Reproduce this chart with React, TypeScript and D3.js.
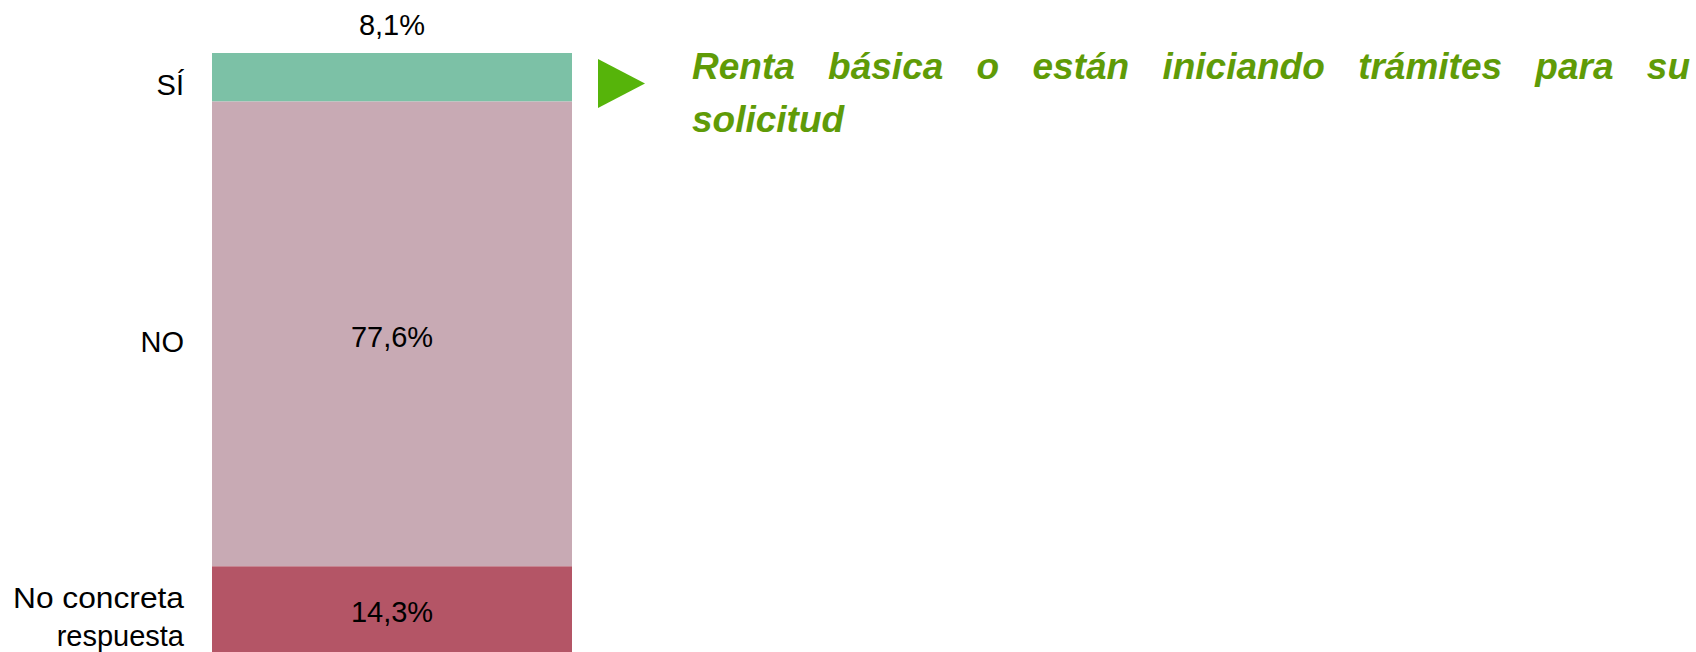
import { useEffect, useRef } from "react";
import * as d3 from "d3";

// respuestas (%), de arriba abajo
const categories = ["SÍ", "NO", "No concreta respuesta"];
const values = [8.1, 77.6, 14.3];
const valueLabels = ["8,1%", "77,6%", "14,3%"];
const colors = ["#7cc1a6", "#c8aab4", "#b45566"];
const titleLines = ["Renta básica o están iniciando trámites para su", "solicitud"];

// reparte las palabras de una línea entre x0 y x1 (texto justificado)
function justify(parent: d3.Selection<any, unknown, null, undefined>, line: string, x0: number, x1: number, y: number) {
  const words = line.split(" ");
  const nodes = words.map((w) => parent.append("text").attr("y", y).text(w));
  const widths = nodes.map((n) => (n.node() as SVGTextElement).getComputedTextLength());
  const gap = (x1 - x0 - d3.sum(widths)) / (words.length - 1);
  let cur = x0;
  nodes.forEach((n, i) => {
    n.attr("x", cur);
    cur += widths[i] + gap;
  });
}

export default function App() {
  const svgRef = useRef<SVGSVGElement>(null);

  useEffect(() => {
    if (!svgRef.current) return;
    const svg = d3.select(svgRef.current);
    svg.selectAll("*").remove();

    const font = "'Liberation Sans', Arial, sans-serif";

    const x = d3.scaleLinear().domain([0, 1]).range([212, 572]);
    const y = d3.scaleLinear().domain([0, 100]).range([53, 652]);

    const cum = d3.cumsum(values);
    const segs = values.map((v, i) => ({ cat: categories[i], v, y0: cum[i] - v, y1: cum[i], label: valueLabels[i], color: colors[i] }));

    // barra apilada
    svg.append("g").selectAll("rect")
      .data(segs)
      .join("rect")
      .attr("x", x(0)).attr("width", x(1) - x(0))
      .attr("y", (d) => y(d.y0)).attr("height", (d) => y(d.y1) - y(d.y0))
      .attr("fill", (d) => d.color);

    // etiquetas de valor (la pequeña va encima de la barra)
    const cx = (x(0) + x(1)) / 2;
    svg.append("g").selectAll("text")
      .data(segs)
      .join("text")
      .attr("x", cx)
      .attr("y", (d, i) => (i === 0 ? y(0) - 18 : (y(d.y0) + y(d.y1)) / 2 + 13))
      .attr("text-anchor", "middle")
      .attr("font-family", font).attr("font-size", 29).attr("fill", "#000")
      .text((d) => d.label);

    // categorías a la izquierda
    const cats = svg.append("g")
      .attr("font-family", font).attr("font-size", 29).attr("fill", "#000");
    segs.forEach((d) => {
      const words = d.cat.split(" ");
      const base = (y(d.y0) + y(d.y1)) / 2 + 18;
      if (words.length > 2) {
        // la primera línea del bloque llega al borde izquierdo
        cats.append("text").attr("x", 13).attr("y", base - 19)
          .attr("textLength", 171).attr("lengthAdjust", "spacingAndGlyphs")
          .text(words.slice(0, 2).join(" "));
        cats.append("text").attr("x", 184).attr("y", base + 19)
          .attr("text-anchor", "end").text(words.slice(2).join(" "));
      } else {
        cats.append("text").attr("x", 184).attr("y", base)
          .attr("text-anchor", "end").text(d.cat);
      }
    });

    // flecha
    svg.append("path")
      .attr("d", "M598,59 L645,83.5 L598,108 Z")
      .attr("fill", "#56b40a");

    // título justificado
    const tx0 = 692;
    const tx1 = 1690;
    const title = svg.append("g")
      .attr("font-family", font).attr("font-size", 37)
      .attr("font-weight", "bold").attr("font-style", "italic")
      .attr("fill", "#5f9b07");
    titleLines.forEach((line, li) => {
      const yy = 79 + li * 53;
      if (li === titleLines.length - 1) {
        title.append("text").attr("x", tx0).attr("y", yy).text(line);
      } else {
        justify(title, line, tx0, tx1, yy);
      }
    });
  }, []);

  return (
    <svg
      ref={svgRef}
      width={1696}
      height={652}
      style={{ position: "absolute", left: 0, top: 0, background: "#fff" }}
    />
  );
}
